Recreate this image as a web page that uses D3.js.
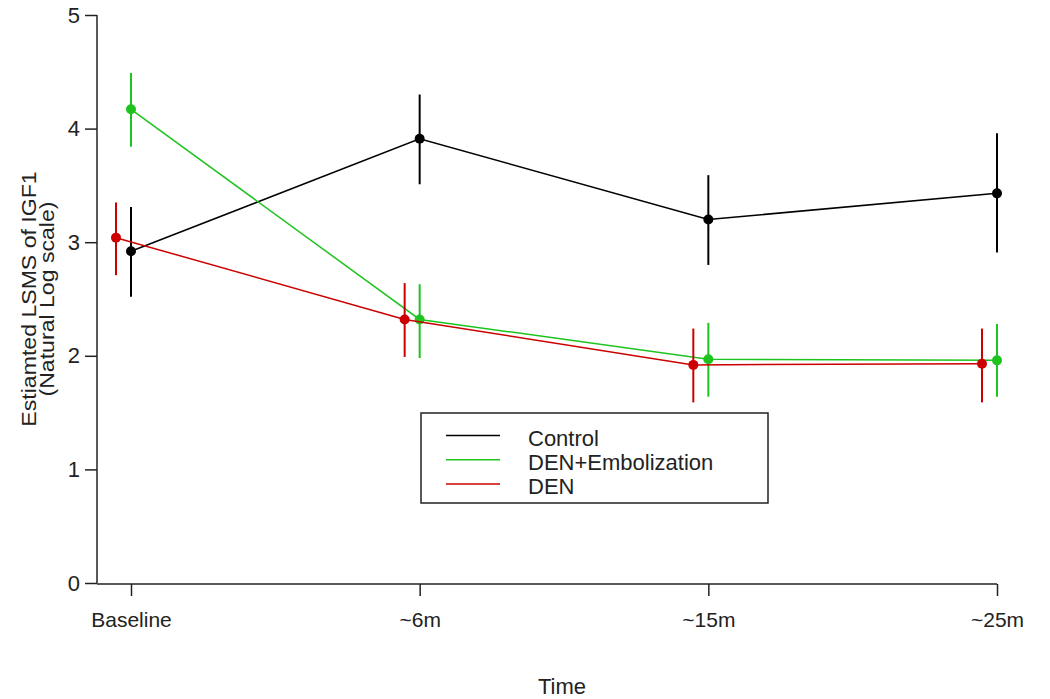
<!DOCTYPE html>
<html>
<head>
<meta charset="utf-8">
<script src="https://cdn.jsdelivr.net/npm/d3@7"></script>
<style>
  body { margin: 0; background: #fff; }
  text { font-family: "Liberation Sans", Arial, sans-serif; fill: #222; }
</style>
</head>
<body>
<script>
const w = 1050;
const h = 699;

// data
const timepoints = ["Baseline", "~6m", "~15m", "~25m"];
const groups = ["Control", "DEN+Embolization", "DEN"];
const colors = ["#000000", "#1ec31e", "#cc0000"];
const offsets = [0, 0, -0.052];   // small horizontal dodge, in category units

const controlMean = [2.92, 3.91, 3.20, 3.43];
const controlLow  = [2.52, 3.51, 2.80, 2.91];
const controlHigh = [3.31, 4.30, 3.59, 3.96];

const embolMean = [4.17, 2.32, 1.97, 1.96];
const embolLow  = [3.84, 1.98, 1.64, 1.64];
const embolHigh = [4.49, 2.63, 2.29, 2.28];

const denMean = [3.04, 2.32, 1.92, 1.93];
const denLow  = [2.71, 1.99, 1.59, 1.59];
const denHigh = [3.35, 2.64, 2.24, 2.24];

const yTicks = [0, 1, 2, 3, 4, 5];

const series = [
  { mean: controlMean, low: controlLow, high: controlHigh },
  { mean: embolMean, low: embolLow, high: embolHigh },
  { mean: denMean, low: denLow, high: denHigh }
];

let svg = d3.select("body").append("svg")
  .attr("width", w)
  .attr("height", h);

var x = d3.scaleLinear()
  .domain([0, timepoints.length - 1])
  .range([131, 997]);

var y = d3.scaleLinear()
  .domain([0, 5])
  .range([583, 15]);

// y axis
var yAxis = svg.append("g")
  .attr("transform", "translate(97,0)")
  .call(d3.axisLeft(y).tickValues(yTicks).tickSize(12).tickPadding(5).tickFormat(d3.format("d")));
yAxis.select(".domain").attr("d", "M0," + y(5) + "V" + y(0)).attr("stroke", "#222").attr("stroke-width", 1.5);
yAxis.selectAll(".tick line").attr("stroke", "#222").attr("stroke-width", 1.5);
yAxis.selectAll("text").style("font-size", "22px").attr("fill", "#222");

// x axis
var xAxis = svg.append("g")
  .attr("transform", "translate(0,584)")
  .call(d3.axisBottom(x).tickValues(d3.range(timepoints.length)).tickSize(12).tickPadding(16)
    .tickFormat(function (d) { return timepoints[d]; }));
xAxis.select(".domain").attr("d", "M97,0H" + x(timepoints.length - 1)).attr("stroke", "#222").attr("stroke-width", 1.5);
xAxis.selectAll(".tick line").attr("stroke", "#222").attr("stroke-width", 1.5);
xAxis.selectAll("text").style("font-size", "21px").attr("fill", "#222");

// axis titles
svg.append("text")
  .attr("x", 562)
  .attr("y", 694)
  .attr("text-anchor", "middle")
  .style("font-size", "22px")
  .text("Time");

svg.append("text")
  .attr("transform", "translate(36," + y(2.5) + ") rotate(-90) scale(1.1,1)")
  .attr("text-anchor", "middle")
  .style("font-size", "21px")
  .text("Estiamted LSMS of IGF1");
svg.append("text")
  .attr("transform", "translate(54," + y(2.5) + ") rotate(-90) scale(1.1,1)")
  .attr("text-anchor", "middle")
  .style("font-size", "21px")
  .text("(Natural Log scale)");

// lines, error bars, points
series.forEach(function (s, gi) {
  var xi = function (i) { return x(i + offsets[gi]); };

  svg.append("path")
    .datum(s.mean)
    .attr("fill", "none")
    .attr("stroke", colors[gi])
    .attr("stroke-width", 1.5)
    .attr("d", d3.line()
      .x(function (d, i) { return xi(i); })
      .y(function (d) { return y(d); }));

  svg.append("g").selectAll("line")
    .data(s.mean)
    .enter().append("line")
    .attr("x1", function (d, i) { return xi(i); })
    .attr("x2", function (d, i) { return xi(i); })
    .attr("y1", function (d, i) { return y(s.low[i]); })
    .attr("y2", function (d, i) { return y(s.high[i]); })
    .attr("stroke", colors[gi])
    .attr("stroke-width", 2);

  svg.append("g").selectAll("circle")
    .data(s.mean)
    .enter().append("circle")
    .attr("cx", function (d, i) { return xi(i); })
    .attr("cy", function (d) { return y(d); })
    .attr("r", 5)
    .attr("fill", colors[gi]);
});

// legend
var legend = svg.append("g");
legend.append("rect")
  .attr("x", 421)
  .attr("y", 413)
  .attr("width", 347)
  .attr("height", 90)
  .attr("fill", "#fff")
  .attr("stroke", "#222")
  .attr("stroke-width", 1.5);

groups.forEach(function (g, gi) {
  var ly = 435.5 + gi * 24.2;
  legend.append("line")
    .attr("x1", 446).attr("x2", 500)
    .attr("y1", ly).attr("y2", ly)
    .attr("stroke", colors[gi])
    .attr("stroke-width", 1.5);
  legend.append("text")
    .attr("x", 528)
    .attr("y", ly + 10)
    .style("font-size", "22px")
    .text(g);
});
</script>
</body>
</html>
